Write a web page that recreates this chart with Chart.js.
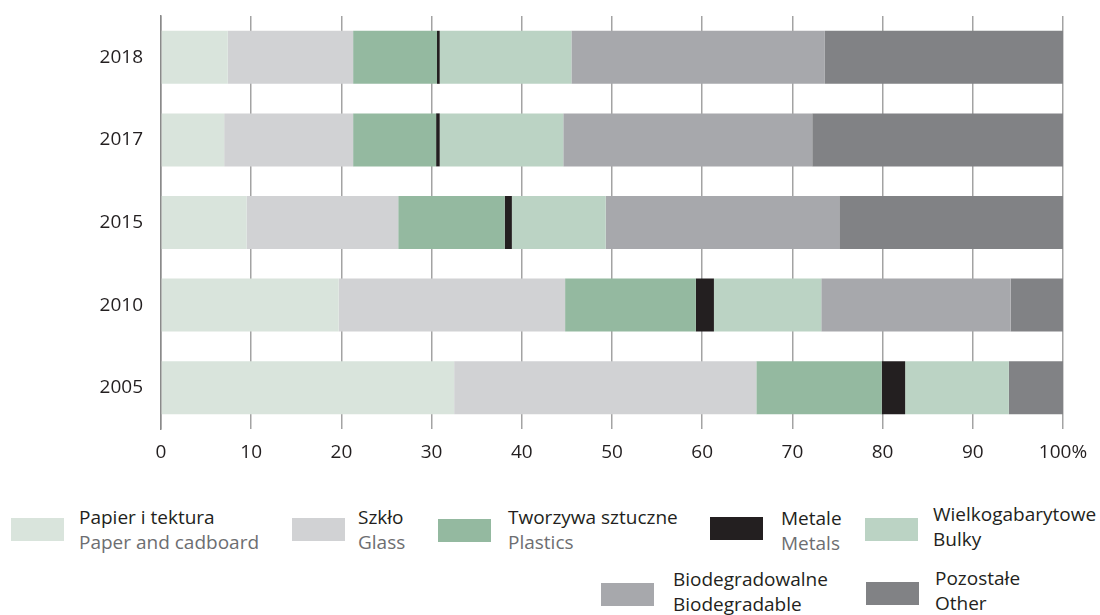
<!DOCTYPE html>
<html>
<head>
<meta charset="utf-8">
<script src="https://cdn.jsdelivr.net/npm/chart.js@4.4.1/dist/chart.umd.min.js"></script>
<style>
  body { margin: 0; background: #fff; font-family: "Open Sans", sans-serif; }
  #wrap { position: relative; width: 1100px; height: 615px; }
  #chart-box { position: absolute; left: 0; top: 0; width: 1100px; height: 480px; }
  .swatch { position: absolute; width: 53px; height: 23px; }
  .txt { position: absolute; white-space: nowrap; font-size: 19px; line-height: 25px; color: #231f20; }
  .txt .en { color: #6d6e71; }
</style>
</head>
<body>
<div id="wrap">
  <div id="chart-box"><canvas id="waste-chart"></canvas></div>
  <div id="legend"></div>
</div>
<script>
// years, top to bottom
const years = ['2018', '2017', '2015', '2010', '2005'];

// shares in %, same order as years
const paper     = [7.4, 7.0, 9.5, 19.7, 32.5];
const glass     = [13.9, 14.3, 16.8, 25.1, 33.5];
const plastics  = [9.3, 9.2, 11.8, 14.5, 13.9];
const metals    = [0.3, 0.4, 0.8, 2.0, 2.6];
const bulky     = [14.6, 13.7, 10.4, 11.9, 11.5];
const biodegr   = [28.1, 27.6, 25.9, 21.0, 0];
const other     = [26.4, 27.8, 24.8, 5.8, 6.0];

const xTicks = [0, 10, 20, 30, 40, 50, 60, 70, 80, 90, 100];

const series = [
    { pl: 'Papier i tektura', en: 'Paper and cadboard', data: paper, color: '#d9e4dc', enGray: true },
    { pl: 'Szkło', en: 'Glass', data: glass, color: '#d1d2d4', enGray: true },
    { pl: 'Tworzywa sztuczne', en: 'Plastics', data: plastics, color: '#94b9a0', enGray: true },
    { pl: 'Metale', en: 'Metals', data: metals, color: '#231f20', enGray: true },
    { pl: 'Wielkogabarytowe', en: 'Bulky', data: bulky, color: '#bbd3c4', enGray: false },
    { pl: 'Biodegradowalne', en: 'Biodegradable', data: biodegr, color: '#a7a8ac', enGray: false },
    { pl: 'Pozostałe', en: 'Other', data: other, color: '#818285', enGray: false }
];

// legend placement (swatch x, swatch y, text x, text y)
const legendPos = [
    [11, 518, 79, 505],
    [292, 518, 358, 505],
    [438, 519, 508, 505],
    [710, 517, 781, 506],
    [865, 518, 933, 502],
    [601, 583, 673, 567],
    [866, 582, 935, 566]
];

const ctx = document.getElementById('waste-chart').getContext('2d');
new Chart(ctx, {
    type: 'bar',
    data: {
        labels: years,
        datasets: series.map(s => ({
            label: s.pl,
            data: s.data,
            backgroundColor: s.color,
            borderWidth: 0,
            categoryPercentage: 1,
            barPercentage: 0.642
        }))
    },
    options: {
        indexAxis: 'y',
        responsive: true,
        maintainAspectRatio: false,
        animation: false,
        layout: { padding: { top: 16, right: 37, bottom: 0, left: 0 } },
        plugins: {
            legend: { display: false },
            tooltip: { enabled: false }
        },
        scales: {
            x: {
                stacked: true,
                min: 0,
                max: 100,
                afterBuildTicks: axis => { axis.ticks = xTicks.map(v => ({ value: v })); },
                afterFit: axis => { axis.height = 51; },
                grid: { color: '#a3a3a3', lineWidth: 1.5, drawTicks: false },
                border: { display: false },
                ticks: {
                    padding: 12,
                    color: '#231f20',
                    font: { family: 'Open Sans', size: 19 },
                    callback: v => (v === 100 ? '100%' : v)
                }
            },
            y: {
                stacked: true,
                afterFit: axis => { axis.width = 161; },
                // invisible ticks give the gap between labels and axis
                grid: { drawOnChartArea: false, drawTicks: true, tickLength: 18, tickColor: 'rgba(0,0,0,0)' },
                border: { display: true, color: '#8a8a8a', width: 1.5 },
                ticks: {
                    padding: 0,
                    color: '#231f20',
                    font: { family: 'Open Sans', size: 19 }
                }
            }
        }
    }
});

// Legend with Polish / English names
const legendEl = document.getElementById('legend');
series.forEach((s, i) => {
    const [sx, sy, tx, ty] = legendPos[i];
    const sw = document.createElement('div');
    sw.className = 'swatch';
    sw.style.left = sx + 'px';
    sw.style.top = sy + 'px';
    sw.style.background = s.color;
    legendEl.appendChild(sw);

    const t = document.createElement('div');
    t.className = 'txt';
    t.style.left = tx + 'px';
    t.style.top = ty + 'px';
    t.innerHTML = s.pl + '<br><span' + (s.enGray ? ' class="en"' : '') + '>' + s.en + '</span>';
    legendEl.appendChild(t);
});
</script>
</body>
</html>
